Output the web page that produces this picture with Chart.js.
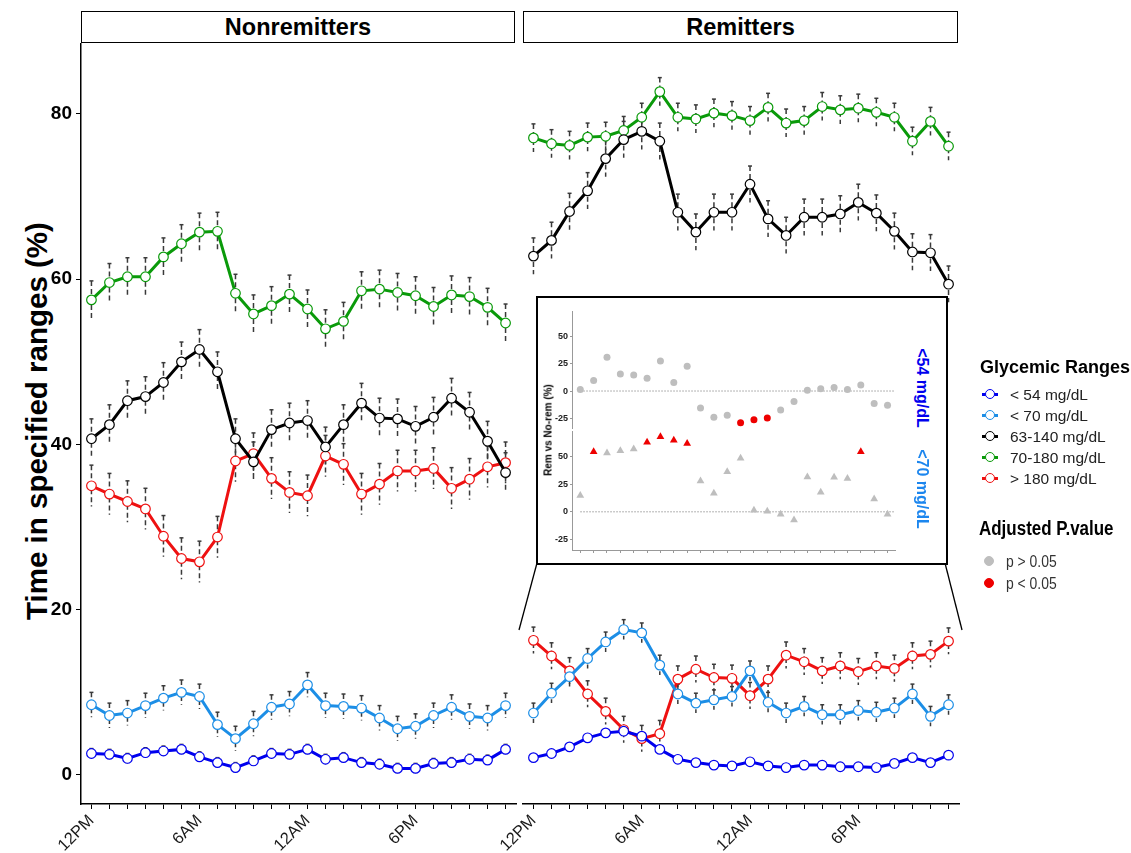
<!DOCTYPE html>
<html>
<head>
<meta charset="utf-8">
<script src="https://cdn.jsdelivr.net/npm/chart.js@4.4.1/dist/chart.umd.min.js"></script>
<style>
  body { margin: 0; background: #fff; font-family: "Liberation Sans", Arial, sans-serif; }
  #page { position: relative; width: 1131px; height: 853px; overflow: hidden; }
  .abs { position: absolute; }
  .strip { position: absolute; top: 11px; height: 30px; border: 1.5px solid #000; background: #fff;
           font-weight: bold; font-size: 23.5px; text-align: center; line-height: 31px; }
  #ytitle { left: 37px; top: 421px; transform: translate(-50%, -50%) rotate(-90deg); white-space: nowrap;
            font-weight: bold; font-size: 29.5px; }
  #inset { left: 536px; top: 296px; width: 408px; height: 265px; border: 2px solid #000; background: #fff; }
  .legend-title { font-weight: bold; font-size: 18px; color: #000; white-space: nowrap; }
  .leg-item { position: absolute; left: 982px; font-size: 15.5px; color: #222; height: 16px; line-height: 16px; }
  .leg-line { position: absolute; left: 0; top: 6px; width: 16px; height: 3px; }
  .leg-dot { position: absolute; left: 3px; top: 2px; width: 8px; height: 8px; border-radius: 50%; background: #fff; border: 1px solid; }
  .leg-text { position: absolute; left: 28px; top: 0; white-space: nowrap; }
  .narrow { transform: scaleX(0.87); transform-origin: left center; }
</style>
</head>
<body>
<div id="page">
  <div class="strip" style="left:81px; width:432px;">Nonremitters</div>
  <div class="strip" style="left:523px; width:433px;">Remitters</div>
  <div id="ytitle" class="abs">Time in specified ranges (%)</div>

  <canvas id="leftChart" class="abs" style="left:0; top:43px;" width="520" height="810"></canvas>
  <canvas id="rightChart" class="abs" style="left:478px; top:43px;" width="482" height="810"></canvas>

  <svg class="abs" style="left:0; top:0;" width="1131" height="853">
    <line x1="537" y1="563" x2="519" y2="630" stroke="#000" stroke-width="1.3"/>
    <line x1="945" y1="563" x2="962" y2="630" stroke="#000" stroke-width="1.3"/>
  </svg>

  <div id="inset" class="abs"></div>
  <canvas id="insetTop" class="abs" style="left:540px; top:305px;" width="360" height="125"></canvas>
  <canvas id="insetBottom" class="abs" style="left:540px; top:426px;" width="360" height="134"></canvas>
  <div class="abs" style="left:548px; top:430px; transform: translate(-50%, -50%) rotate(-90deg); white-space: nowrap; font-weight: bold; font-size: 10px;">Rem vs No-rem (%)</div>
  <div class="abs" style="left:922px; top:388px; transform: translate(-50%, -50%) rotate(90deg); white-space: nowrap; font-weight: bold; font-size: 16px; color: #0000ee;">&lt;54 mg/dL</div>
  <div class="abs" style="left:922px; top:489px; transform: translate(-50%, -50%) rotate(90deg); white-space: nowrap; font-weight: bold; font-size: 16px; color: #1c86ee;">&lt;70 mg/dL</div>

  <div class="abs legend-title" style="left:980px; top:357px;">Glycemic Ranges</div>
  <div id="legendItems"></div>
  <div class="abs legend-title narrow" style="left:979px; top:517px; font-size: 19.5px;">Adjusted P.value</div>
  <div class="leg-item" style="top:554px;"><span class="leg-dot" style="left:2px; background:#bebebe; border-color:#bebebe;"></span><span class="leg-text narrow" style="left:24px; color:#333; font-size:16px;">p &gt; 0.05</span></div>
  <div class="leg-item" style="top:576px;"><span class="leg-dot" style="left:2px; background:#ee0000; border-color:#ee0000;"></span><span class="leg-text narrow" style="left:24px; color:#333; font-size:16px;">p &lt; 0.05</span></div>
</div>

<script>
// x axis: 24 hourly slots, only some are labelled
const slotCount = 24;
const xTickPos = [0, 6, 12, 18];
const xTickText = ["12PM", "6AM", "12AM", "6PM"];
const yTicks = [0, 20, 40, 60, 80];

const rangeNames = ["< 54 mg/dL", "< 70 mg/dL", "63-140 mg/dL", "70-180 mg/dL", "> 180 mg/dL"];
const rangeColors = ["#0000ee", "#1c8ee6", "#000000", "#0a9a0a", "#ee1111"];

// Nonremitters (%)
const nonBlue = [2.6, 2.5, 2.0, 2.7, 2.9, 3.1, 2.2, 1.5, 0.9, 1.7, 2.6, 2.5, 3.1, 1.9, 2.1, 1.5, 1.3, 0.8, 0.8, 1.4, 1.5, 1.9, 1.8, 3.1];
const nonLightBlue = [8.5, 7.2, 7.5, 8.4, 9.3, 10.0, 9.5, 6.1, 4.4, 6.2, 8.2, 8.6, 10.9, 8.4, 8.3, 8.1, 6.9, 5.6, 5.9, 7.2, 8.2, 7.1, 6.9, 8.4];
const nonBlack = [40.7, 42.4, 45.3, 45.8, 47.5, 50.0, 51.5, 48.8, 40.7, 37.9, 41.8, 42.6, 42.9, 39.7, 42.4, 45.0, 43.2, 43.1, 42.2, 43.3, 45.6, 43.9, 40.4, 36.6];
const nonGreen = [57.5, 59.6, 60.3, 60.3, 62.7, 64.3, 65.7, 65.8, 58.3, 55.8, 56.8, 58.2, 56.4, 54.0, 54.9, 58.6, 58.8, 58.4, 58.0, 56.7, 58.1, 57.9, 56.6, 54.7];
const nonRed = [35.0, 34.0, 33.1, 32.2, 28.9, 26.2, 25.8, 28.8, 38.0, 38.9, 35.9, 34.2, 33.8, 38.6, 37.6, 34.0, 35.2, 36.8, 36.8, 37.1, 34.7, 35.8, 37.3, 37.8];
const nonSE = [0.6, 1.5, 2.4, 2.3, 2.5];

// Remitters (%)
const remBlue = [2.1, 2.6, 3.4, 4.5, 5.1, 5.3, 4.7, 3.1, 1.9, 1.5, 1.2, 1.1, 1.6, 1.1, 0.9, 1.2, 1.2, 1.0, 1.0, 0.9, 1.4, 2.1, 1.5, 2.4];
const remLightBlue = [7.5, 9.9, 11.9, 14.1, 16.1, 17.6, 17.2, 13.3, 9.8, 8.7, 9.1, 9.5, 12.6, 8.8, 7.5, 8.3, 7.3, 7.3, 7.8, 7.6, 8.1, 9.8, 7.1, 8.5];
const remBlack = [62.8, 64.7, 68.2, 70.7, 74.6, 76.9, 77.9, 76.7, 68.1, 65.7, 68.1, 68.1, 71.5, 67.3, 65.3, 67.5, 67.5, 67.9, 69.3, 68.0, 65.8, 63.3, 63.2, 59.4];
const remGreen = [77.1, 76.4, 76.2, 77.2, 77.3, 78.0, 79.6, 82.7, 79.6, 79.4, 80.1, 79.8, 79.2, 80.8, 78.9, 79.2, 80.9, 80.5, 80.7, 80.2, 79.6, 76.7, 79.1, 76.1];
const remRed = [16.3, 14.4, 12.6, 9.8, 7.7, 5.5, 4.4, 5.0, 11.6, 12.8, 11.8, 11.7, 9.6, 11.6, 14.5, 13.7, 12.6, 13.2, 12.5, 13.2, 12.9, 14.4, 14.6, 16.2];
const remSE = [0.45, 1.2, 2.2, 1.7, 1.6];

// inset: Rem vs No-rem difference (%)
const diff54 = [1.5, 9.6, 30.7, 15.4, 14.5, 11.7, 27.4, 7.8, 22.6, -15.4, -23.8, -22.0, -28.9, -26.2, -24.4, -17.2, -9.6, 0.6, 2.1, 3.3, 1.5, 5.4, -11.4, -13.0];
const sig54Hours = [12, 13, 14];
const diff70 = [14.8, 54.5, 53.3, 55.4, 56.9, 63.0, 68.1, 64.8, 62.0, 28.0, 16.9, 36.4, 48.5, 1.5, 0.6, -2.1, -7.5, 31.6, 17.8, 31.3, 30.1, 54.5, 11.7, -2.1];
const sig70Hours = [1, 5, 6, 7, 8, 21];
const insetTicks = [-25, 0, 25, 50];

// legend
const legendBox = document.getElementById("legendItems");
rangeNames.forEach((name, i) => {
  const item = document.createElement("div");
  item.className = "leg-item";
  item.style.top = (387 + i * 21) + "px";
  item.innerHTML = `<span class="leg-line" style="background:${rangeColors[i]}"></span>` +
    `<span class="leg-dot" style="border-color:${rangeColors[i]}"></span>` +
    `<span class="leg-text">${name}</span>`;
  legendBox.appendChild(item);
});

const errorBars = {
  id: "errorBars",
  beforeDatasetsDraw(chart) {
    const ctx = chart.ctx;
    const xs = chart.scales.x, ys = chart.scales.y;
    ctx.save();
    ctx.strokeStyle = "#3a3a3a";
    ctx.lineWidth = 1.5;
    chart.data.datasets.forEach(ds => {
      ds.data.forEach(p => {
        const x = xs.getPixelForValue(p.x);
        const top = ys.getPixelForValue(p.y + ds.se);
        const bot = ys.getPixelForValue(p.y - ds.se);
        ctx.setLineDash([5, 3]);
        ctx.beginPath();
        ctx.moveTo(x, top);
        ctx.lineTo(x, bot);
        ctx.stroke();
        ctx.setLineDash([]);
        ctx.beginPath();
        ctx.moveTo(x - 2, top);
        ctx.lineTo(x + 2, top);
        ctx.stroke();
      });
    });
    ctx.restore();
  }
};

// drop the label overhang padding so the plot area sits exactly where the layout puts it
function noPad(s) {
  s.paddingTop = 0; s.paddingBottom = 0; s.paddingLeft = 0; s.paddingRight = 0;
}

function makeSets(series, seList) {
  return series.map((vals, i) => ({
    label: rangeNames[i],
    data: vals.map((v, h) => ({ x: h, y: v })),
    se: seList[i],
    borderColor: rangeColors[i],
    borderWidth: 3,
    pointRadius: 4.8,
    pointBackgroundColor: "#fff",
    pointBorderColor: rangeColors[i],
    pointBorderWidth: 1.2,
    tension: 0,
    clip: 8
  }));
}

function panelOptions(showY, padLeft, padRight) {
  return {
    responsive: false,
    animation: false,
    layout: { autoPadding: false, padding: { left: padLeft, right: padRight, top: 0, bottom: 0 } },
    plugins: { legend: { display: false }, tooltip: { enabled: false } },
    scales: {
      x: {
        type: "linear",
        min: -0.58, max: 23.58,
        afterBuildTicks: axis => { axis.ticks = Array.from({ length: slotCount }, (_, h) => ({ value: h })); },
        afterFit: s => { s.height = 49; noPad(s); },
        ticks: {
          autoSkip: false, maxRotation: 45, minRotation: 45, padding: 2,
          color: "#1a1a1a", font: { size: 16.5, family: "Liberation Sans" },
          callback: v => { const k = xTickPos.indexOf(v); return k >= 0 ? xTickText[k] : ""; }
        },
        grid: { drawOnChartArea: false, drawTicks: true, tickLength: 5, color: "#000", tickWidth: 1 },
        border: { display: true, color: "#000", width: 1.5 }
      },
      y: {
        display: showY,
        min: -3.51, max: 88.59,
        afterBuildTicks: axis => { axis.ticks = yTicks.map(v => ({ value: v })); },
        afterFit: s => { if (showY) s.width = 81; noPad(s); },
        ticks: { color: "#000", padding: 4, font: { size: 19, weight: "bold", family: "Liberation Sans" } },
        grid: { drawOnChartArea: false, drawTicks: true, tickLength: 5, color: "#000" },
        border: { display: true, color: "#000", width: 1.5 }
      }
    }
  };
}

new Chart(document.getElementById("leftChart"), {
  type: "line",
  data: { datasets: makeSets([nonBlue, nonLightBlue, nonBlack, nonGreen, nonRed], nonSE) },
  options: panelOptions(true, 0, 4),
  plugins: [errorBars]
});

new Chart(document.getElementById("rightChart"), {
  type: "line",
  data: { datasets: makeSets([remBlue, remLightBlue, remBlack, remGreen, remRed], remSE) },
  options: panelOptions(false, 45, 1),
  plugins: [errorBars]
});

// inset charts
const zeroLine = {
  id: "zeroLine",
  beforeDatasetsDraw(chart) {
    const ctx = chart.ctx;
    const y0 = chart.scales.y.getPixelForValue(0);
    ctx.save();
    ctx.strokeStyle = "#9a9a9a";
    ctx.lineWidth = 1;
    ctx.setLineDash([1.5, 1.5]);
    ctx.beginPath();
    ctx.moveTo(chart.scales.x.getPixelForValue(0), y0);
    ctx.lineTo(chart.chartArea.right, y0);
    ctx.stroke();
    ctx.restore();
  }
};

function insetChart(id, values, sigHours, style, yMin, yMax, showX, pad) {
  return new Chart(document.getElementById(id), {
    type: "scatter",
    data: {
      datasets: [{
        data: values.map((v, h) => ({ x: h, y: v })),
        pointStyle: style,
        pointRadius: style === "triangle" ? 4.5 : 3.5,
        pointBorderWidth: 0,
        pointBackgroundColor: values.map((v, h) => sigHours.includes(h) ? "#ee0000" : "#bebebe"),
        clip: 6
      }]
    },
    options: {
      responsive: false,
      animation: false,
      layout: { autoPadding: false, padding: pad },
      plugins: { legend: { display: false }, tooltip: { enabled: false } },
      scales: {
        x: {
          type: "linear", display: showX,
          min: -0.62, max: 23.56,
          afterBuildTicks: axis => { axis.ticks = Array.from({ length: slotCount }, (_, h) => ({ value: h })); },
          afterFit: s => { if (showX) s.height = 10; noPad(s); },
          ticks: { display: false },
          grid: { drawOnChartArea: false, drawTicks: true, tickLength: 3, color: "#999" },
          border: { display: true, color: "#999", width: 1 }
        },
        y: {
          min: yMin, max: yMax,
          afterBuildTicks: axis => { axis.ticks = insetTicks.map(v => ({ value: v })); },
          afterFit: s => { s.width = 32; noPad(s); },
          ticks: { color: "#222", padding: 2, font: { size: 9, weight: "bold", family: "Liberation Sans" } },
          grid: { drawOnChartArea: false, drawTicks: true, tickLength: 2, color: "#999" },
          border: { display: true, color: "#999", width: 1 }
        }
      }
    },
    plugins: [zeroLine]
  });
}

insetChart("insetTop", diff54, sig54Hours, "circle", -33.6, 72.1, false, { top: 6.7, bottom: 2, right: 5, left: 0 });
insetChart("insetBottom", diff70, sig70Hours, "triangle", -34.6, 72.6, true, { top: 5.7, bottom: 0, right: 5, left: 0 });
</script>
</body>
</html>
